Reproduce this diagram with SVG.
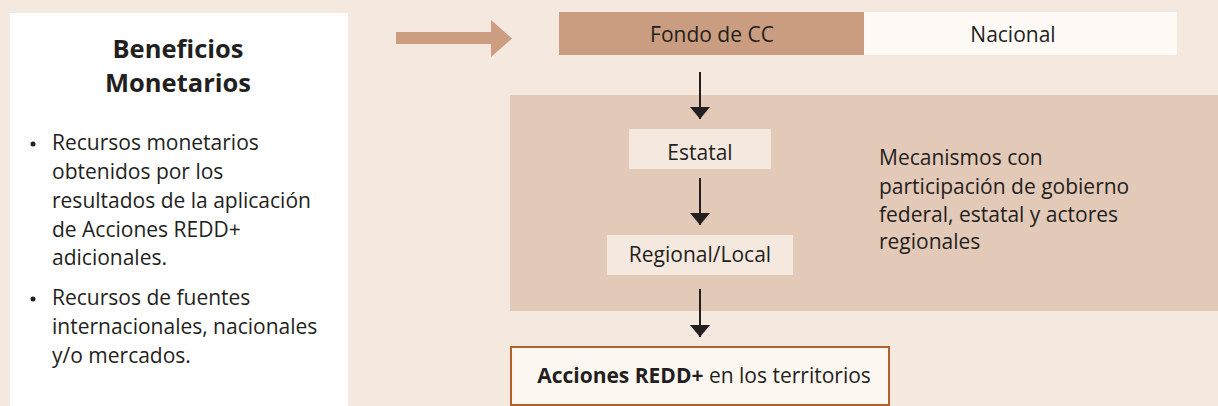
<svg xmlns="http://www.w3.org/2000/svg" width="1218" height="406" viewBox="0 0 1218 406">
<defs>
<style>
text{font-family:"Open Sans","Noto Sans","Liberation Sans",sans-serif;fill:#231f20;}
.t{font-size:21px;}
.h{font-size:25.5px;font-weight:bold;}
.c{text-anchor:middle;}
.conn{stroke:#231f20;stroke-width:2;fill:none;}
.lvl{fill:#f5e9df;}
</style>
<marker id="ah" viewBox="0 0 10 10" refX="10" refY="5" markerWidth="12" markerHeight="20" markerUnits="userSpaceOnUse" orient="auto" preserveAspectRatio="none">
<path d="M0,0L10,5L0,10Z" fill="#231f20"/>
</marker>
</defs>
<rect width="1218" height="406" fill="#f5e8df"/>
<g id="beneficios">
<rect x="10" y="13" width="338" height="393" fill="#ffffff"/>
<text class="h c" x="178" y="58">Beneficios</text>
<text class="h c" x="178" y="92">Monetarios</text>
<circle cx="33" cy="144" r="2.5" fill="#231f20"/>
<text class="t" x="52"><tspan x="52" y="150">Recursos monetarios</tspan><tspan x="52" y="179">obtenidos por los</tspan><tspan x="52" y="208">resultados de la aplicación</tspan><tspan x="52" y="237">de Acciones REDD+</tspan><tspan x="52" y="265">adicionales.</tspan></text>
<circle cx="33" cy="299" r="2.5" fill="#231f20"/>
<text class="t" x="52"><tspan x="52" y="305">Recursos de fuentes</tspan><tspan x="52" y="334">internacionales, nacionales</tspan><tspan x="52" y="363">y/o mercados.</tspan></text>
</g>
<g id="mecanismos">
<rect x="510" y="95" width="708" height="216" fill="#e3c9b7"/>
<text class="t"><tspan x="879" y="165">Mecanismos con</tspan><tspan x="879" y="194">participación de gobierno</tspan><tspan x="879" y="222">federal, estatal y actores</tspan><tspan x="879" y="249">regionales</tspan></text>
</g>
<g id="fondo">
<rect x="559" y="12" width="305" height="43" fill="#cb9d80"/>
<text class="t c" x="712" y="42">Fondo de CC</text>
</g>
<g id="nacional">
<rect x="864" y="12" width="313" height="43" fill="#fffaf6"/>
<text class="t c" x="1013" y="42">Nacional</text>
</g>
<g id="estatal">
<rect class="lvl" x="629" y="129" width="142" height="40"/>
<text class="t c" x="700" y="160">Estatal</text>
</g>
<g id="regional">
<rect class="lvl" x="607" y="235" width="186" height="40"/>
<text class="t c" x="700" y="262">Regional/Local</text>
</g>
<g id="acciones">
<rect x="511" y="347" width="378" height="58" fill="#fdf7f2" stroke="#b3602f" stroke-width="2"/>
<text class="t c" x="704" y="383"><tspan font-weight="bold">Acciones REDD+</tspan> en los territorios</text>
</g>
<g id="connectors">
<path d="M396,32H491V20L512,38.5L491,57V44H396Z" fill="#cc9d80"/>
<line class="conn" x1="700" y1="72" x2="700" y2="119" marker-end="url(#ah)"/>
<line class="conn" x1="700" y1="178" x2="700" y2="225" marker-end="url(#ah)"/>
<line class="conn" x1="700" y1="289" x2="700" y2="337" marker-end="url(#ah)"/>
</g>
</svg>
